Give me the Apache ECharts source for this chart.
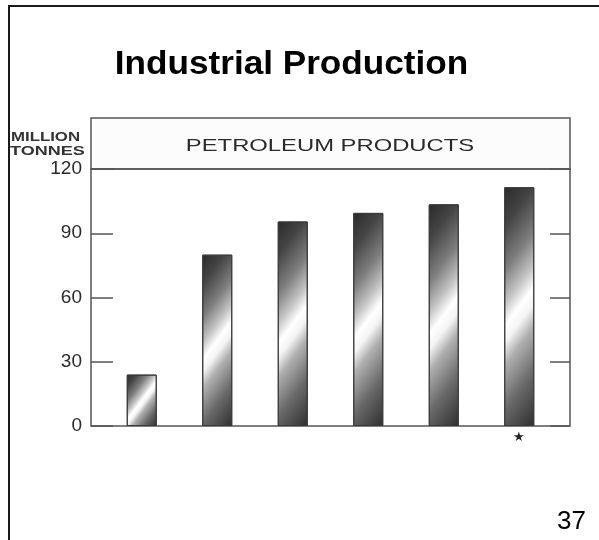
<!DOCTYPE html>
<html><head><meta charset="utf-8">
<script src="https://cdn.jsdelivr.net/npm/echarts@6/dist/echarts.min.js"></script>
<style>html,body{margin:0;padding:0;background:#fff}#c{width:599px;height:540px}</style>
</head><body><div id="c"></div>
<script>
// Data
const categories = ['P1', 'P2', 'P3', 'P4', 'P5', 'P6'];
const tickLabels = ['', '', '', '', '', '\u2605'];
const values = [24, 80, 95.5, 99.5, 103.5, 111.5];
const yTicks = [0, 30, 60, 90, 120];
const titleText = 'Industrial Production';
const panelText = 'PETROLEUM PRODUCTS';
const unitLines = ['MILLION', 'TONNES'];
const pageNumber = '37';

const FONT = '"Liberation Sans", Arial, Helvetica, sans-serif';
const chart = echarts.init(document.getElementById('c'), null, {renderer: 'canvas'});

const stops = [
  {offset: 0, color: '#2a2a2a'},
  {offset: 0.14, color: '#444444'},
  {offset: 0.3, color: '#7e7e7e'},
  {offset: 0.42, color: '#c4c4c4'},
  {offset: 0.5, color: '#ffffff'},
  {offset: 0.56, color: '#f4f4f4'},
  {offset: 0.64, color: '#b0b0b0'},
  {offset: 0.8, color: '#6a6a6a'},
  {offset: 1, color: '#2e2e2e'}
];

function makeOption(barData) {
  return {
    animation: false,
    backgroundColor: '#ffffff',
    grid: [
      {left: 91, top: 169, width: 479, height: 257, show: true, borderColor: '#555', borderWidth: 1.5, backgroundColor: 'transparent'},
      {left: 104, top: 169, width: 453, height: 257, show: false}
    ],
    xAxis: [
      {gridIndex: 0, type: 'value', show: false, min: 0, max: 1},
      {gridIndex: 1, type: 'category', data: categories,
       axisLine: {show: false}, axisTick: {show: false},
       axisLabel: {formatter: (v, i) => tickLabels[i], fontSize: 13, color: '#222', margin: 5, fontFamily: FONT}}
    ],
    yAxis: [
      {gridIndex: 0, type: 'value', min: yTicks[0], max: yTicks[yTicks.length - 1], interval: 30,
       axisLine: {show: false}, splitLine: {show: false},
       axisTick: {show: true, inside: true, length: 22, lineStyle: {color: '#555', width: 1.5}},
       axisLabel: {fontSize: 19, color: '#2a2a2a', margin: 9, fontFamily: FONT}},
      {gridIndex: 0, type: 'value', position: 'right', min: yTicks[0], max: yTicks[yTicks.length - 1], interval: 30,
       axisLine: {show: false}, splitLine: {show: false},
       axisTick: {show: true, inside: true, length: 20, lineStyle: {color: '#555', width: 1.5}},
       axisLabel: {show: false}},
      {gridIndex: 1, type: 'value', min: yTicks[0], max: yTicks[yTicks.length - 1], show: false}
    ],
    series: [{
      type: 'bar', xAxisIndex: 1, yAxisIndex: 2, barWidth: 30,
      data: barData,
      itemStyle: {color: '#777', borderColor: '#3a3a3a', borderWidth: 1}
    }],
    graphic: [
      {type: 'polyline', shape: {points: [[9, 540], [9, 6], [599, 6]]}, style: {stroke: '#1a1a1a', lineWidth: 2, fill: null}},
      {type: 'rect', shape: {x: 91, y: 118, width: 479, height: 51}, style: {stroke: '#555', lineWidth: 1.5, fill: '#fcfcfc'}, z: -1},
      {type: 'text', x: 291.5, y: 65, scaleX: 1.065, style: {text: titleText, font: 'bold 33px ' + FONT, fill: '#000', textAlign: 'center', textVerticalAlign: 'middle'}},
      {type: 'text', x: 330, y: 146, scaleX: 1.4, style: {text: panelText, font: '17px ' + FONT, fill: '#2a2a2a', textAlign: 'center', textVerticalAlign: 'middle'}},
      {type: 'text', x: 11, y: 137.5, scaleX: 1.4, style: {text: unitLines[0], font: 'bold 12px ' + FONT, fill: '#333', textAlign: 'left', textVerticalAlign: 'middle'}},
      {type: 'text', x: 10, y: 151.5, scaleX: 1.5, style: {text: unitLines[1], font: 'bold 12px ' + FONT, fill: '#333', textAlign: 'left', textVerticalAlign: 'middle'}},
      {type: 'text', x: 586, y: 522, style: {text: pageNumber, font: '26px ' + FONT, fill: '#000', textAlign: 'right', textVerticalAlign: 'middle'}}
    ]
  };
}

chart.setOption(makeOption(values.slice()));

// per-bar diagonal gradient, sized from the bar's pixel extent given by the axis scale
const y0 = chart.convertToPixel({yAxisIndex: 2}, 0);
const barW = 30;
const styled = values.map(v => {
  const h = Math.max(1, y0 - chart.convertToPixel({yAxisIndex: 2}, v));
  const s = (0.8 * barW + 0.6 * h) / 5;
  return {
    value: v,
    itemStyle: {color: new echarts.graphic.LinearGradient(0, 0, 4 * s / barW, 3 * s / h, stops)}
  };
});
chart.setOption({series: [{data: styled}]});
</script>
</body></html>
